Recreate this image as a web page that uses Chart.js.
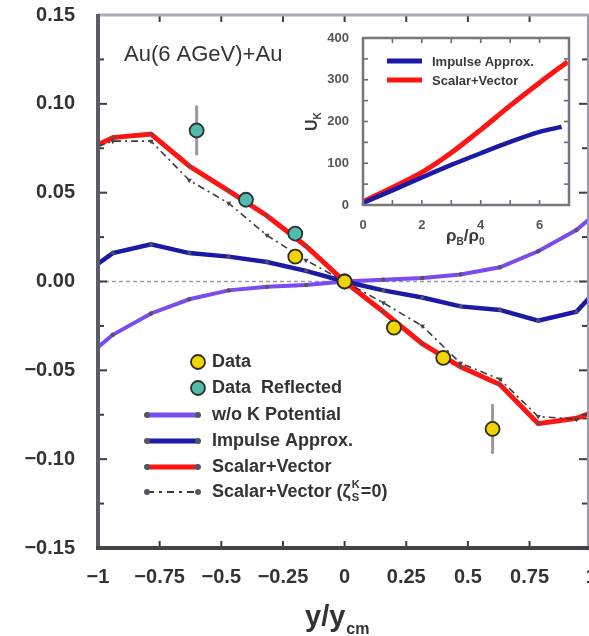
<!DOCTYPE html>
<html><head><meta charset="utf-8">
<script src="https://cdn.jsdelivr.net/npm/chart.js@4.4.0/dist/chart.umd.min.js"></script>
<style>
html,body{margin:0;padding:0;background:#fff;}
#wrap{position:relative;width:589px;height:636px;overflow:hidden;background:#fff;}
#main{position:absolute;left:0;top:0;}
#inset{position:absolute;left:300px;top:25px;}
</style></head><body>
<div id="wrap"><canvas id="main" width="600" height="636"></canvas><canvas id="inset" width="280" height="225"></canvas></div>
<script>
// ---------- main panel data ----------
const rapidity      = [-1.0, -0.94, -0.785, -0.63, -0.47, -0.315, -0.157, 0, 0.157, 0.315, 0.47, 0.63, 0.785, 0.94, 1.0];
const noKPotential  = [-0.037,-0.030,-0.018,-0.010,-0.005,-0.003,-0.002,0,0.001,0.002,0.004,0.008,0.017,0.029,0.036];
const impulseApprox = [0.010,0.016,0.021,0.016,0.014,0.011,0.006,0,-0.005,-0.009,-0.014,-0.016,-0.022,-0.017,-0.008];
const scalarVector  = [0.077,0.081,0.083,0.065,0.051,0.037,0.020,0,-0.017,-0.035,-0.048,-0.058,-0.080,-0.077,-0.074];
const scalarVectorC0= [0.076,0.079,0.079,0.057,0.044,0.026,0.012,0,-0.012,-0.025,-0.046,-0.055,-0.076,-0.0775,-0.077];

const dataX   = [-0.2, 0, 0.2, 0.4, 0.6];
const dataY   = [0.014, 0.0, -0.026, -0.043, -0.083];
const dataErr = [0.004, 0.003, 0.004, 0.004, 0.014];

const reflX   = [-0.6, -0.4, -0.2, 0];
const reflY   = [0.085, 0.046, 0.027, 0.0];
const reflErr = [0.014, 0.004, 0.004, 0.003];

const xTickValues = [-1, -0.75, -0.5, -0.25, 0, 0.25, 0.5, 0.75, 1];
const xTickLabels = ['\u22121', '\u22120.75', '\u22120.5', '\u22120.25', '0', '0.25', '0.5', '0.75', '1'];
const yTickValues = [-0.15, -0.10, -0.05, 0, 0.05, 0.10, 0.15];
const yTickLabels = ['\u22120.15', '\u22120.10', '\u22120.05', '0.00', '0.05', '0.10', '0.15'];

// ---------- inset data ----------
const insetDensityImp = [0, 1, 2, 3, 4, 5, 6, 6.75];
const insetImpulse    = [5, 35, 66, 96, 124, 151, 175, 187];
const insetDensitySV  = [0, 1, 2, 3, 4, 5, 6, 6.95];
const insetScalarVec  = [8, 42, 78, 125, 180, 238, 293, 343];
const insetXTickValues = [0, 2, 4, 6];
const insetXTickLabels = ['0', '2', '4', '6'];
const insetYTickValues = [0, 100, 200, 300, 400];
const insetYTickLabels = ['0', '100', '200', '300', '400'];

const FONT = '"Liberation Sans", Arial, Helvetica, sans-serif';
const mk = (xs, ys) => xs.map((x, i) => ({x: x, y: ys[i]}));
const edgeR = r => ctx => (ctx.raw && Math.abs(ctx.raw.x) >= 0.999 ? 0 : r);

const COL = {purple:'#7a4cf0', blue:'#1a1aa6', red:'#ff1414', dash:'#3a3a3a', yellow:'#f2d400', teal:'#4fbcae', mark:'#555560'};

function line(ctx, x1, y1, x2, y2) { ctx.beginPath(); ctx.moveTo(x1, y1); ctx.lineTo(x2, y2); ctx.stroke(); }

// error bars drawn beneath marker datasets
const errPlugin = {
  id: 'errbars',
  beforeDatasetDraw(chart, args) {
    const ds = chart.data.datasets[args.index];
    if (!ds.errors) return;
    const {ctx} = chart; const x = chart.scales.x, y = chart.scales.y;
    ctx.save();
    ctx.strokeStyle = '#9a9a9a'; ctx.lineWidth = 3;
    ds.data.forEach((p, i) => {
      const e = ds.errors[i];
      const px = x.getPixelForValue(p.x);
      line(ctx, px, y.getPixelForValue(p.y + e), px, y.getPixelForValue(p.y - e));
    });
    ctx.restore();
  }
};

const mainFrame = {
  id: 'mainFrame',
  afterDatasetsDraw(chart) {
    const {ctx, chartArea: a} = chart; const x = chart.scales.x, y = chart.scales.y;
    const rx = 588;
    ctx.save();
    ctx.strokeStyle = '#3c3c44'; ctx.lineWidth = 2;
    for (let v = -0.75; v < 0.99; v += 0.25) {
      const px = x.getPixelForValue(v);
      line(ctx, px, a.bottom, px, a.bottom - 7);
      line(ctx, px, a.top, px, a.top + 7);
    }
    for (let k = -5; k <= 5; k++) {
      const v = k * 0.025; const py = y.getPixelForValue(v);
      const len = (k % 2 === 0) ? 9 : 6;
      line(ctx, a.left, py, a.left + len, py);
      line(ctx, rx, py, rx - len, py);
    }
    ctx.lineWidth = 3; ctx.strokeStyle = '#a8abbb'; line(ctx, a.left, a.top, a.right, a.top);
    ctx.lineWidth = 2; ctx.strokeStyle = '#9a9aa8'; line(ctx, rx, a.top, rx, a.bottom);
    ctx.lineWidth = 4; ctx.strokeStyle = '#5c5c66'; line(ctx, a.left, a.top - 1, a.left, a.bottom + 2);
    ctx.lineWidth = 4; ctx.strokeStyle = '#444448'; line(ctx, a.left - 2, a.bottom, a.right, a.bottom);
    ctx.restore();
  },
  afterDraw(chart) {
    const {ctx} = chart;
    ctx.save();
    ctx.fillStyle = '#333';
    ctx.textBaseline = 'middle'; ctx.textAlign = 'left';
    ctx.font = '22px ' + FONT;
    ctx.fillText('Au(6 AGeV)+Au', 124, 55);

    // x-axis title
    ctx.textBaseline = 'alphabetic';
    ctx.font = 'bold 29px ' + FONT;
    ctx.fillText('y/y', 305, 626);
    const w = ctx.measureText('y/y').width;
    ctx.font = 'bold 16px ' + FONT;
    ctx.fillText('cm', 305 + w + 1, 634);

    // legend
    const tx = 212;
    const rows = [362, 388, 415, 441, 467, 492];
    ctx.font = 'bold 18px ' + FONT; ctx.textBaseline = 'middle';
    const circ = (cx, cy, fill) => {
      ctx.beginPath(); ctx.arc(cx, cy, 7, 0, Math.PI * 2);
      ctx.fillStyle = fill; ctx.fill(); ctx.lineWidth = 1.8; ctx.strokeStyle = '#2e2e24'; ctx.stroke();
    };
    circ(198, rows[0], COL.yellow);
    circ(198, rows[1], COL.teal);
    const sample = (yy, color, width, dash) => {
      ctx.save(); ctx.strokeStyle = color; ctx.lineWidth = width; if (dash) ctx.setLineDash(dash);
      line(ctx, 147, yy, 198, yy); ctx.restore();
      ctx.fillStyle = COL.mark;
      [147, 198].forEach(cx => { ctx.beginPath(); ctx.arc(cx, yy, 3, 0, Math.PI * 2); ctx.fill(); });
    };
    sample(rows[2], COL.purple, 5);
    sample(rows[3], COL.blue, 5);
    sample(rows[4], COL.red, 5);
    sample(rows[5], COL.dash, 2, [7, 5, 3, 5]);
    ctx.fillStyle = '#333';
    ctx.font = 'bold 18px ' + FONT;
    ctx.fillText('Data', tx, rows[0]);
    ctx.fillText('Data  Reflected', tx, rows[1]);
    ctx.fillText('w/o K Potential', tx, rows[2]);
    ctx.fillText('Impulse Approx.', tx, rows[3]);
    ctx.fillText('Scalar+Vector', tx, rows[4]);
    const s = 'Scalar+Vector (\u03B6';
    ctx.fillText(s, tx, rows[5]);
    const sw = ctx.measureText(s).width;
    ctx.font = 'bold 11px ' + FONT;
    ctx.fillText('K', tx + sw + 1, rows[5] - 7);
    ctx.fillText('S', tx + sw + 1, rows[5] + 6);
    ctx.font = 'bold 18px ' + FONT;
    ctx.fillText('=0)', tx + sw + 10, rows[5]);
    ctx.restore();
  }
};

new Chart(document.getElementById('main'), {
  type: 'scatter',
  data: { datasets: [
    {label: 'zero', data: mk([-1, 1], [0, 0]), showLine: true, borderColor: '#9a9aae', borderWidth: 1.5, borderDash: [4, 3], pointRadius: 0, order: 10},
    {label: 'w/o K Potential', data: mk(rapidity, noKPotential), showLine: true, borderColor: COL.purple, borderWidth: 4,
     pointRadius: edgeR(2.2), pointStyle: 'circle', pointBackgroundColor: COL.mark, pointBorderColor: COL.mark, pointBorderWidth: 0, order: 9},
    {label: 'Impulse Approx.', data: mk(rapidity, impulseApprox), showLine: true, borderColor: COL.blue, borderWidth: 4.5,
     pointRadius: edgeR(3), pointStyle: 'triangle', pointBackgroundColor: COL.mark, pointBorderColor: COL.mark, pointBorderWidth: 0, order: 8},
    {label: 'Scalar+Vector', data: mk(rapidity, scalarVector), showLine: true, borderColor: COL.red, borderWidth: 5,
     pointRadius: edgeR(2.2), pointStyle: 'rect', pointBackgroundColor: COL.mark, pointBorderColor: COL.mark, pointBorderWidth: 0, order: 7},
    {label: 'Scalar+Vector c0', data: mk(rapidity, scalarVectorC0), showLine: true, borderColor: COL.dash, borderWidth: 1.6, borderDash: [7, 4, 2, 4],
     pointRadius: edgeR(3), pointStyle: 'triangle', rotation: 180, pointBackgroundColor: '#444', pointBorderColor: '#444', pointBorderWidth: 0, order: 6},
    {label: 'Data Reflected', data: mk(reflX, reflY), errors: reflErr, showLine: false, pointRadius: 7, pointBackgroundColor: COL.teal,
     pointBorderColor: '#2a3434', pointBorderWidth: 1.8, order: 2},
    {label: 'Data', data: mk(dataX, dataY), errors: dataErr, showLine: false, pointRadius: 7, pointBackgroundColor: COL.yellow,
     pointBorderColor: '#2e2e20', pointBorderWidth: 1.8, order: 1}
  ]},
  options: {
    responsive: false, animation: false, devicePixelRatio: 1,
    layout: {padding: {left: 0, right: 0, top: 15, bottom: 0}},
    plugins: {legend: {display: false}, tooltip: {enabled: false}},
    elements: {line: {tension: 0}},
    scales: {
      x: {type: 'linear', min: -1, max: 1, grid: {display: false}, border: {display: false},
        afterBuildTicks: s => { s.ticks = xTickValues.map(v => ({value: v})); },
        ticks: {callback: (v, i) => xTickLabels[i], font: {family: FONT, size: 20, weight: 'bold'}, color: '#333', padding: 9, maxRotation: 0, autoSkip: false},
        afterFit: s => { s.height = 88; s.paddingLeft = 0; s.paddingRight = 0; }},
      y: {type: 'linear', min: -0.15, max: 0.15, grid: {display: false}, border: {display: false},
        afterBuildTicks: s => { s.ticks = yTickValues.map(v => ({value: v})); },
        ticks: {callback: (v, i) => yTickLabels[i], font: {family: FONT, size: 20, weight: 'bold'}, color: '#333', padding: 15, autoSkip: false},
        afterFit: s => { s.width = 98; s.paddingTop = 0; s.paddingBottom = 0; }}
    }
  },
  plugins: [errPlugin, mainFrame]
});

// ---------- inset ----------
const insetFrame = {
  id: 'insetFrame',
  afterDatasetsDraw(chart) {
    const {ctx, chartArea: a} = chart; const x = chart.scales.x, y = chart.scales.y;
    ctx.save();
    ctx.strokeStyle = '#6a6a72'; ctx.lineWidth = 1.6;
    for (let v = 1; v <= 6; v++) {
      const px = x.getPixelForValue(v);
      line(ctx, px, a.bottom, px, a.bottom - 5);
      line(ctx, px, a.top, px, a.top + 5);
    }
    for (let v = 50; v < 400; v += 50) {
      const py = y.getPixelForValue(v);
      line(ctx, a.left, py, a.left + 5, py);
      line(ctx, a.right, py, a.right - 5, py);
    }
    ctx.lineWidth = 2.5; ctx.strokeStyle = '#76767e';
    ctx.strokeRect(a.left, a.top, a.right - a.left, a.bottom - a.top);
    ctx.restore();
  },
  afterDraw(chart) {
    const {ctx} = chart;
    ctx.save();
    // legend
    ctx.lineWidth = 5;
    ctx.strokeStyle = COL.blue; line(ctx, 87, 36, 122, 36);
    ctx.strokeStyle = COL.red; line(ctx, 87, 55, 122, 55);
    ctx.fillStyle = '#3a3a3a'; ctx.textBaseline = 'middle'; ctx.textAlign = 'left';
    ctx.font = 'bold 13px ' + FONT;
    ctx.fillText('Impulse Approx.', 132, 37);
    ctx.fillText('Scalar+Vector', 132, 56);
    // x title
    ctx.textBaseline = 'alphabetic';
    ctx.font = 'bold 17px ' + FONT;
    let cx = 146;
    ctx.fillText('\u03C1', cx, 216); cx += ctx.measureText('\u03C1').width;
    ctx.font = 'bold 10px ' + FONT; ctx.fillText('B', cx, 220); cx += ctx.measureText('B').width;
    ctx.font = 'bold 17px ' + FONT; ctx.fillText('/\u03C1', cx, 216); cx += ctx.measureText('/\u03C1').width;
    ctx.font = 'bold 10px ' + FONT; ctx.fillText('0', cx, 220);
    // y title (rotated)
    ctx.translate(17, 106); ctx.rotate(-Math.PI / 2);
    ctx.font = 'bold 16px ' + FONT; ctx.fillText('U', 0, 0);
    const uw = ctx.measureText('U').width;
    ctx.font = 'bold 10px ' + FONT; ctx.fillText('K', uw, 4);
    ctx.restore();
  }
};

new Chart(document.getElementById('inset'), {
  type: 'scatter',
  data: { datasets: [
    {label: 'Impulse Approx.', data: mk(insetDensityImp, insetImpulse), showLine: true, borderColor: COL.blue, borderWidth: 4.5, pointRadius: 0},
    {label: 'Scalar+Vector', data: mk(insetDensitySV, insetScalarVec), showLine: true, borderColor: COL.red, borderWidth: 5, pointRadius: 0}
  ]},
  options: {
    responsive: false, animation: false, devicePixelRatio: 1,
    layout: {padding: {left: 0, right: 11, top: 13, bottom: 0}},
    plugins: {legend: {display: false}, tooltip: {enabled: false}},
    elements: {line: {tension: 0.3}},
    scales: {
      x: {type: 'linear', min: 0, max: 7, grid: {display: false}, border: {display: false},
        afterBuildTicks: s => { s.ticks = insetXTickValues.map(v => ({value: v})); },
        ticks: {callback: (v, i) => insetXTickLabels[i], font: {family: FONT, size: 13, weight: 'bold'}, color: '#555', padding: 5, maxRotation: 0, autoSkip: false},
        afterFit: s => { s.height = 45; s.paddingLeft = 0; s.paddingRight = 0; }},
      y: {type: 'linear', min: 0, max: 400, grid: {display: false}, border: {display: false},
        afterBuildTicks: s => { s.ticks = insetYTickValues.map(v => ({value: v})); },
        ticks: {callback: (v, i) => insetYTickLabels[i], font: {family: FONT, size: 13, weight: 'bold'}, color: '#555', padding: 6, autoSkip: false},
        afterFit: s => { s.width = 63; s.paddingTop = 0; s.paddingBottom = 0; }}
    }
  },
  plugins: [insetFrame]
});
</script>
</body></html>
